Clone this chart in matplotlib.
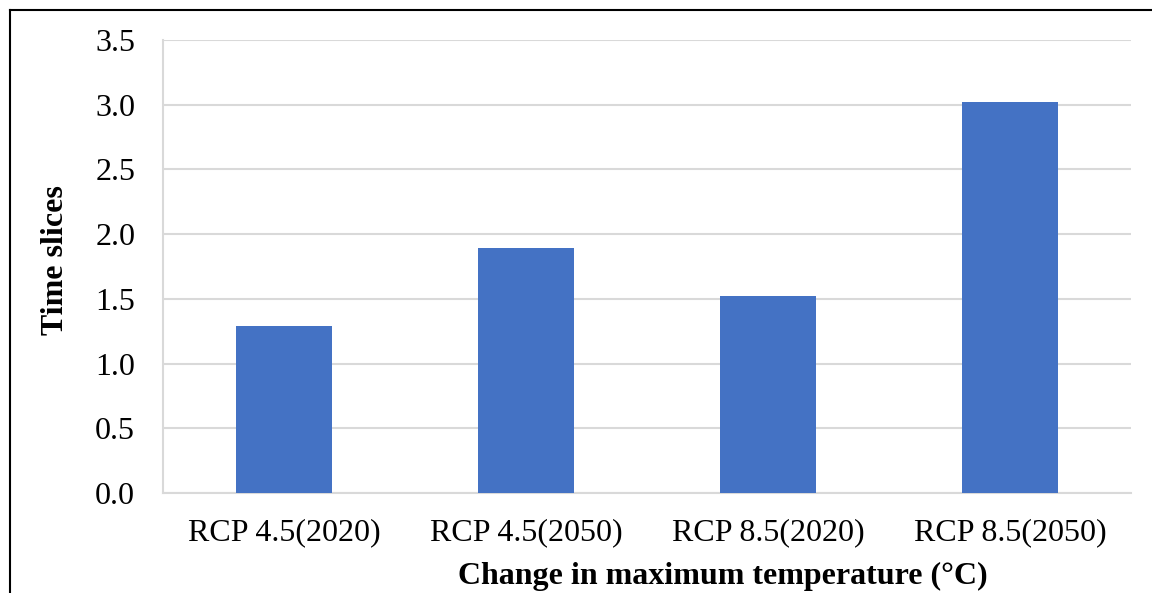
import numpy as np
import matplotlib
matplotlib.use("Agg")
import matplotlib.pyplot as plt
from matplotlib.lines import Line2D

categories = ["RCP 4.5(2020)", "RCP 4.5(2050)", "RCP 8.5(2020)", "RCP 8.5(2050)"]
values = [1.29, 1.89, 1.52, 3.02]
yticks = [0.0, 0.5, 1.0, 1.5, 2.0, 2.5, 3.0, 3.5]

plt.rcParams['font.family'] = ['Liberation Serif', 'DejaVu Serif']

fig = plt.figure(figsize=(11.52, 5.93), dpi=100)
ax = fig.add_axes([163/1152, 1 - 493/593, (1131 - 163)/1152, (493 - 40)/593])

x = np.arange(len(categories))
ax.bar(x, values, width=0.4, color="#4472c4", zorder=3)

ax.set_xlim(-0.5, len(categories) - 0.5)
ax.set_ylim(0, 3.5)
ax.set_yticks(yticks)
ax.set_yticklabels([f"{v:.1f}" for v in yticks], fontsize=23)
ax.set_xticks(x)
ax.set_xticklabels(categories, fontsize=23)
ax.tick_params(axis="both", length=0)
ax.tick_params(axis="y", pad=20)
ax.tick_params(axis="x", pad=18)

ax.grid(axis="y", color="#d9d9d9", linewidth=1.5, zorder=0)
for s in ["top", "right"]:
    ax.spines[s].set_visible(False)
for s in ["left", "bottom"]:
    ax.spines[s].set_color("#d9d9d9")
    ax.spines[s].set_linewidth(1.5)

ax.set_xlabel("Change in maximum temperature (°C)", fontsize=23, fontweight="bold", labelpad=11)
ax.xaxis.label.set_x(0.5785)
ax.set_ylabel("Time slices", fontsize=23, fontweight="bold", labelpad=18)
ax.yaxis.label.set_y(0.514)

# outer frame (top and left edges)
fig.add_artist(Line2D([9.5/1152, 1], [1 - 9.5/593, 1 - 9.5/593], transform=fig.transFigure, color="black", lw=1.5))
fig.add_artist(Line2D([9.5/1152, 9.5/1152], [0, 1 - 9.5/593], transform=fig.transFigure, color="black", lw=1.5))

fig.savefig("out.png", dpi=100)
